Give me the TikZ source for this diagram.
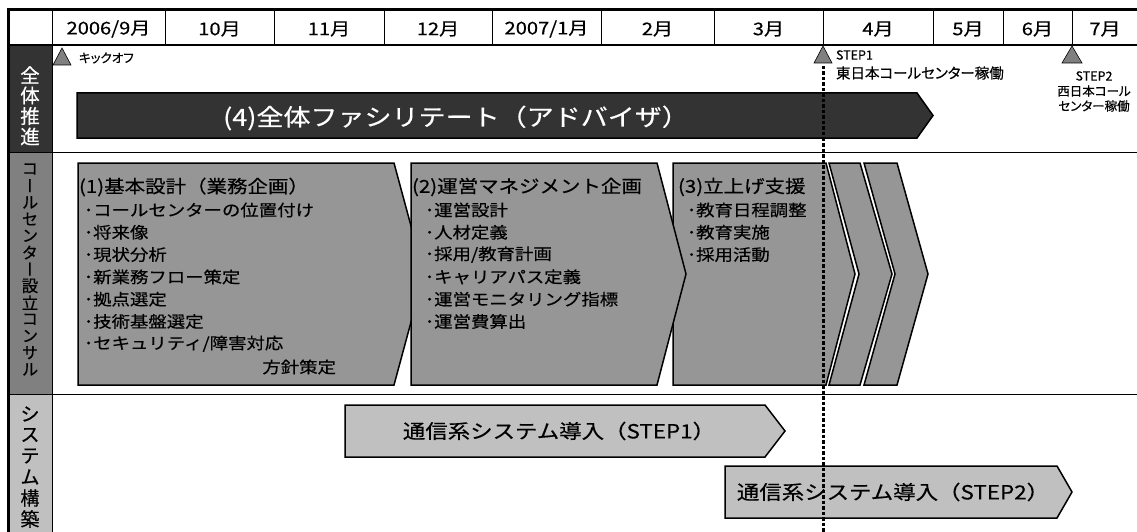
\documentclass[tikz,border=0pt]{standalone}
\usepackage{fontspec}
\setmainfont[FakeBold=0.4]{Noto Sans CJK JP}
\newfontfamily\jp[FakeStretch=1.15,FakeBold=0.4]{Noto Sans CJK JP}
\newfontfamily\jpp[RawFeature=+palt,FakeBold=0.4]{Noto Sans CJK JP}
\newfontfamily\jpv[RawFeature=+vert,FakeBold=0.4]{Noto Sans CJK JP}
\definecolor{cdark}{HTML}{333333}
\definecolor{cmid}{HTML}{808080}
\definecolor{cbox}{HTML}{969696}
\definecolor{clight}{HTML}{C0C0C0}
\tikzset{
  txt/.style={inner sep=0pt, outer sep=0pt},
  hdr/.style={txt, font=\jp\fontsize{17.5}{20}\selectfont},
  vlabA/.style={txt, text=white, font=\fontsize{19.5}{22}\selectfont},
  vlabB/.style={txt, font=\jpv\fontsize{16.5}{18}\selectfont},
  vlabC/.style={txt, font=\fontsize{19}{21}\selectfont},
  small/.style={txt, font=\jpp\fontsize{12.5}{14}\selectfont},
  ttl/.style={txt, anchor=west, font=\jp\fontsize{17.8}{20}\selectfont},
  itm/.style={txt, anchor=west, font=\jp\fontsize{16}{18}\selectfont},
  phase/.style={fill=cbox, draw=black, line width=1.5pt, line join=miter},
  sysarrow/.style={fill=clight, draw=black, line width=1.5pt},
  mile/.style={fill=cmid, draw=black, line width=0.6pt},
  systxt/.style={txt, font=\jp\fontsize{19.5}{22}\selectfont},
}
\begin{document}
\begin{tikzpicture}[x=1pt,y=-1pt]
\useasboundingbox (0,0) rectangle (1137,532);
\fill[white] (0,0) rectangle (1137,532);
% left column fills
\fill[cdark] (8,45) rectangle (52,152);
\fill[cmid] (8,152) rectangle (52,394);
\fill[clight] (8,394) rectangle (52,532);
% grid
\draw[line width=0.8pt] (8,152) -- (1137,152);
\draw[line width=0.8pt] (8,394) -- (1137,394);
\draw[line width=1.5pt] (8,45) -- (1137,45);
\foreach \x in {165,274,384,492,601,714,823,933,1003,1072}
  \draw[line width=1pt] (\x,11) -- (\x,45);
\draw[line width=1pt] (52,11) -- (52,532);
\draw[line width=3pt] (7,10) -- (1137,10);
\draw[line width=2.5pt] (8.5,9) -- (8.5,532);
% header labels
\foreach \t/\c [count=\i] in {{2006/9月}/108.5,{10月}/219.5,{11月}/329,{12月}/438,{2007/1月}/546.5,{2月}/657.5,{3月}/768.5,{4月}/878,{5月}/968,{6月}/1037.5,{7月}/1105}
  \node[hdr] (h\i) at (\c,29) {\t};
% vertical labels
\foreach \ch [count=\i from 0] in {全,体,推,進}
  \node[vlabA] (va\i) at (30,75+20.5*\i) {\ch};
\foreach \ch [count=\i from 0] in {コ,ー,ル,セ,ン,タ,ー,設,立,コ,ン,サ,ル}
  \node[vlabB] (vb\i) at (30,169+16.7*\i) {\ch};
\foreach \ch [count=\i from 0] in {シ,ス,テ,ム,構,築}
  \node[vlabC] (vc\i) at (30,414+21*\i) {\ch};
% milestones
\draw[mile] (62,48) -- (71,65) -- (53,65) -- cycle;
\node[small, anchor=west] (kick) at (79,58) {キックオフ};
\draw[mile] (823,46) -- (832,63) -- (814,63) -- cycle;
\node[small, anchor=west] (s1a) at (836,55) {STEP1};
\node[small, anchor=west, font=\jpp\fontsize{14.5}{16}\selectfont] (s1b) at (836,73) {東日本コールセンター稼働};
\draw[mile] (1072,46) -- (1082,63) -- (1062,63) -- cycle;
\node[small] (s2a) at (1094,76) {STEP2};
\node[small] (s2b) at (1094,91) {西日本コール};
\node[small] (s2c) at (1094,106) {センター稼働};
% row 1 bar
\draw[fill=cdark, draw=black, line width=1.5pt] (77,93) -- (917,93) -- (933,115.5) -- (917,138) -- (77,138) -- cycle;
\node[txt, text=white, font=\jp\fontsize{23.5}{26}\selectfont] (facil) at (456,118) {(4)全体ファシリテート（アドバイザ）};
% row 2 phases
\draw[phase] (78,163) -- (394,163) -- (424,274) -- (394,385) -- (78,385) -- cycle;
\draw[phase] (673,163) -- (826,163) -- (855,274) -- (826,385) -- (673,385) -- cycle;
\draw[phase] (411,163) -- (657,163) -- (686,274) -- (657,385) -- (411,385) -- cycle;
\draw[phase] (829,163) -- (860,163) -- (892,274) -- (860,385) -- (829,385) -- (859,274) -- cycle;
\draw[phase] (864,163) -- (897,163) -- (928,274) -- (897,385) -- (864,385) -- (895,274) -- cycle;
\node[ttl] (t1) at (79,187) {(1)基本設計（業務企画）};
\foreach \t [count=\i from 0] in {コールセンターの位置付け,将来像,現状分析,新業務フロー策定,拠点選定,技術基盤選定,セキュリティ/障害対応}
  \node[itm] (a\i) at (84,210+22.3*\i) {･\t};
\node[itm, anchor=east] (a7) at (336,367) {方針策定};
\node[ttl] (t2) at (412,187) {(2)運営マネジメント企画};
\foreach \t [count=\i from 0] in {運営設計,人材定義,採用/教育計画,キャリアパス定義,運営モニタリング指標,運営費算出}
  \node[itm] (b\i) at (425,210+22.3*\i) {･\t};
\node[ttl] (t3) at (678,187) {(3)立上げ支援};
\foreach \t [count=\i from 0] in {教育日程調整,教育実施,採用活動}
  \node[itm] (c\i) at (687,210+22.3*\i) {･\t};
% row 3
\draw[sysarrow] (345,405) -- (765,405) -- (785,431) -- (765,457) -- (345,457) -- cycle;
\node[systxt] (sys1) at (559,431) {通信系システム導入（STEP1）};
\draw[sysarrow] (725,466) -- (1057,466) -- (1072,492) -- (1057,518) -- (725,518) -- cycle;
\node[systxt] (sys2) at (893,492) {通信系システム導入（STEP2）};
% dotted line
\coordinate (dtop) at (823,66);
\coordinate (dbot) at (823,532);
\draw[line width=3pt, dash pattern=on 3.5pt off 2pt] (dtop) -- (dbot);
\end{tikzpicture}
\end{document}
